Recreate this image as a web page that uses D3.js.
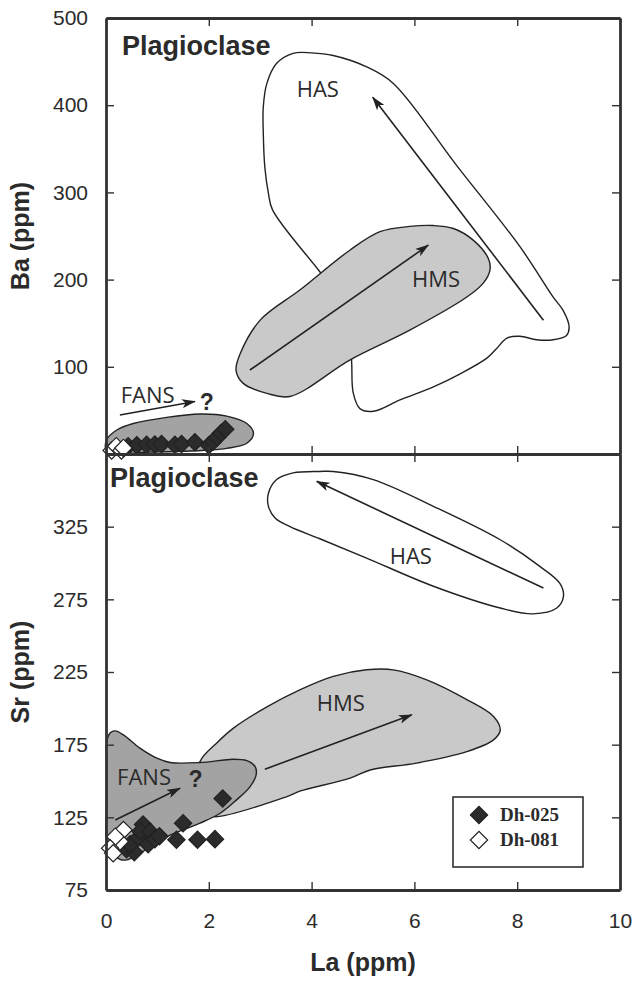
<!DOCTYPE html>
<html>
<head>
<meta charset="utf-8">
<script src="https://cdn.jsdelivr.net/npm/d3@7"></script>
<style>
  body { margin: 0; background: #fff; }
  text { fill: #2b2b2b; }
</style>
</head>
<body>
<div id="chart"></div>
<script>
// Canvas and panel layout
const width = 632, height = 983;
const plot = { left: 106, right: 620, top: 18, mid: 454, bottom: 890 };

// ---- data (La ppm, Ba / Sr ppm) ----
const xTicks = [0, 2, 4, 6, 8, 10];
const baTicks = [100, 200, 300, 400, 500];
const srTicks = [75, 125, 175, 225, 275, 325];

// sample Dh-025 (filled diamonds)
const ba025 = [[0.43, 9], [0.6, 10], [0.79, 10.5], [0.95, 11], [1.08, 11.5], [1.34, 10.5], [1.47, 11.5],
  [1.73, 13.5], [2.0, 10], [2.08, 14], [2.16, 19], [2.24, 24], [2.32, 28.5]];
const sr025 = [[0.40, 103], [0.55, 101], [0.47, 106.5], [0.63, 111], [0.82, 106.5], [0.72, 120], [0.67, 115.5],
  [0.86, 115], [0.95, 110], [1.04, 112], [1.37, 109.5], [1.78, 109.5], [2.12, 110], [1.50, 121], [2.27, 138]];
// sample Dh-081 (open diamonds)
const ba081 = [[0.11, 4], [0.2, 9], [0.3, 4], [0.34, 7]];
const sr081 = [[0.34, 116.3], [0.27, 108.3], [0.18, 111.7], [0.08, 103.7], [0.14, 100.3]];

// fields, top panel (La, Ba)
const hasBa = [[4.00, 460], [4.42, 457], [5.07, 444], [5.59, 425], [6.82, 331], [8.05, 238], [8.70, 180], [8.89, 165],
  [9.01, 146], [8.96, 136], [8.70, 131], [8.38, 131], [8.05, 135], [7.80, 133], [7.60, 121], [7.41, 110],
  [6.89, 92], [6.37, 77], [5.72, 62], [5.20, 49], [4.94, 52], [4.81, 70], [4.78, 104], [4.75, 136],
  [4.65, 171], [4.16, 209], [3.24, 280], [3.16, 299], [3.09, 329], [3.06, 368], [3.06, 398], [3.13, 425],
  [3.32, 448], [3.64, 459.5]];
const hmsBa = [[5.33, 255], [5.91, 261], [6.37, 262], [6.76, 258.6], [7.15, 245], [7.44, 224], [7.47, 211],
  [7.34, 196], [7.02, 180], [5.91, 142], [4.75, 108], [3.58, 66], [3.13, 69.6], [2.67, 81], [2.53, 96],
  [2.61, 115], [3.0, 153.5], [3.77, 188], [4.75, 234]];
const fansBa = [[0.01, 16], [0.21, 27.5], [0.53, 35], [1.18, 42], [1.83, 45.8], [2.35, 43.5], [2.74, 35],
  [2.87, 23.7], [2.74, 12.3], [2.35, 6.5], [2.02, 4.6], [0.86, 2.3], [0.02, 2.3]];

// fields, bottom panel (La, Sr)
const hasSr = [[4.16, 363], [3.64, 362], [3.32, 357.4], [3.16, 348], [3.16, 339], [3.29, 331], [3.58, 325],
  [4.16, 316.7], [5.07, 303.4], [6.37, 284], [7.67, 269], [8.31, 265], [8.77, 269], [8.90, 277], [8.83, 286],
  [8.44, 297.7], [7.67, 316], [6.37, 339], [5.20, 357.4], [4.42, 363]];
const hmsSr = [[1.83, 163.4], [2.15, 176], [2.48, 186.4], [3.13, 201], [3.77, 212.7], [4.42, 222], [5.07, 226.5],
  [5.59, 226.5], [6.24, 219.6], [7.02, 206], [7.54, 194.4], [7.67, 185], [7.54, 178.3], [7.02, 170.2],
  [6.04, 162.3], [5.14, 157.6], [4.75, 152], [3.77, 143], [3.52, 139.3], [2.09, 125.5], [1.93, 128.7], [1.79, 144]];
const fansSr = [[0.01, 176], [0.08, 183], [0.18, 184.5], [0.34, 181.7], [0.66, 172.6], [0.99, 165.7], [1.25, 162.7],
  [1.83, 162.7], [2.48, 165], [2.74, 164], [2.90, 160], [2.92, 154], [2.80, 146], [2.54, 137], [2.22, 127.8],
  [1.83, 121], [1.18, 111.7], [0.66, 100.3], [0.40, 95.7], [0.27, 96.1], [0.11, 101.4], [0.01, 109.4],
  [0.01, 134.7], [0.01, 164.5]];

// trend arrows [from, to]
const arrowsBa = [[[8.51, 153.5], [5.19, 409]], [[2.80, 96.3], [6.27, 239.5]], [[0.27, 44.7], [1.73, 60.3]]];
const arrowsSr = [[[8.51, 282.8], [4.10, 356.2]], [[3.09, 158.1], [5.95, 195.5]], [[0.18, 123.2], [1.44, 145]]];

// field labels [text, La, value]
const labelsBa = [["HAS", 4.12, 409], ["HMS", 6.42, 191], ["FANS", 0.81, 59]];
const labelsSr = [["HAS", 5.93, 299.5], ["HMS", 4.57, 198], ["FANS", 0.74, 147.3]];
const legendNames = ["Dh-025", "Dh-081"];

// ---- scales ----
const x = d3.scaleLinear().domain([0, 10]).range([plot.left, plot.right]);
const yBa = d3.scaleLinear().domain([0, 500]).range([plot.mid, plot.top]);
const ySr = d3.scaleLinear().domain([75, 375]).range([plot.bottom, plot.mid]);

const svg = d3.select("#chart").append("svg")
    .attr("width", width)
    .attr("height", height);

const defs = svg.append("defs");
defs.append("marker")
    .attr("id", "arrow")
    .attr("viewBox", "0 0 14 9")
    .attr("refX", 13).attr("refY", 4.5)
    .attr("markerUnits", "userSpaceOnUse")
    .attr("markerWidth", 14).attr("markerHeight", 9)
    .attr("orient", "auto")
    .append("path")
    .attr("d", "M0,0 L14,4.5 L0,9 L3.5,4.5 Z")
    .attr("fill", "#222");

const diamond = d3.symbol().type(d3.symbolSquare).size(150);
const LABEL_FONT = "'Open Sans', 'DejaVu Sans', sans-serif";
const AXIS_FONT = "'Liberation Sans', Arial, sans-serif";

function drawField(yScale, data, fill) {
    const line = d3.line()
        .x(d => x(d[0]))
        .y(d => yScale(d[1]))
        .curve(d3.curveCatmullRomClosed.alpha(0.5));
    svg.append("path")
        .attr("d", line(data))
        .attr("fill", fill)
        .attr("stroke", "#222")
        .attr("stroke-width", 1.4);
}

function drawArrows(yScale, arrows) {
    svg.selectAll(null).data(arrows).enter().append("line")
        .attr("x1", d => x(d[0][0])).attr("y1", d => yScale(d[0][1]))
        .attr("x2", d => x(d[1][0])).attr("y2", d => yScale(d[1][1]))
        .attr("stroke", "#222")
        .attr("stroke-width", 1.6)
        .attr("marker-end", "url(#arrow)");
}

function drawLabels(yScale, labels) {
    svg.selectAll(null).data(labels).enter().append("text")
        .attr("x", d => x(d[1])).attr("y", d => yScale(d[2]))
        .attr("text-anchor", "middle")
        .style("font-family", LABEL_FONT)
        .style("font-size", "22px")
        .text(d => d[0]);
}

function drawPoints(yScale, data, fill) {
    svg.selectAll(null).data(data).enter().append("path")
        .attr("d", diamond)
        .attr("transform", d => `translate(${x(d[0])},${yScale(d[1])}) rotate(45)`)
        .attr("fill", fill)
        .attr("stroke", "#222")
        .attr("stroke-width", 1.2);
}

function drawQuestion(xPos, yPos) {
    svg.append("text")
        .attr("x", xPos).attr("y", yPos)
        .attr("text-anchor", "middle")
        .style("font-family", AXIS_FONT)
        .style("font-size", "23px")
        .style("font-weight", "bold")
        .text("?");
}

// ---- top panel: Ba ----
drawField(yBa, hasBa, "#fff");
drawField(yBa, hmsBa, "#c9c9c9");
drawField(yBa, fansBa, "#a3a3a3");
drawArrows(yBa, arrowsBa);
drawLabels(yBa, labelsBa);
drawQuestion(x(1.96), yBa(50.4));
drawPoints(yBa, ba025, "#2b2b2b");
drawPoints(yBa, ba081, "#fff");

// ---- bottom panel: Sr ----
drawField(ySr, hasSr, "#fff");
drawField(ySr, hmsSr, "#c9c9c9");
drawField(ySr, fansSr, "#a3a3a3");
drawArrows(ySr, arrowsSr);
drawLabels(ySr, labelsSr);
drawQuestion(x(1.74), ySr(146));
drawPoints(ySr, sr025, "#2b2b2b");
drawPoints(ySr, sr081, "#fff");

// ---- axes & frame ----
function styleAxis(g) {
    g.select(".domain").attr("stroke", "#333").attr("stroke-width", 2.8);
    g.selectAll(".tick line").attr("stroke", "#333").attr("stroke-width", 1.4);
    g.selectAll(".tick text")
        .style("font-family", AXIS_FONT)
        .style("font-size", "21px")
        .attr("fill", "#2b2b2b");
}
const TICK = -8;

// top panel
svg.append("g").attr("transform", `translate(${plot.left},0)`)
    .call(d3.axisLeft(yBa).tickValues(baTicks).tickSizeInner(TICK).tickSizeOuter(0).tickPadding(18))
    .call(styleAxis);
svg.append("g").attr("transform", `translate(${plot.right},0)`)
    .call(d3.axisRight(yBa).tickValues(baTicks).tickSizeInner(TICK).tickSizeOuter(0).tickFormat(""))
    .call(styleAxis);
svg.append("g").attr("transform", `translate(0,${plot.top})`)
    .call(d3.axisTop(x).tickValues(xTicks).tickSizeInner(TICK).tickSizeOuter(0).tickFormat(""))
    .call(styleAxis);
svg.append("g").attr("transform", `translate(0,${plot.mid})`)
    .call(d3.axisBottom(x).tickValues(xTicks).tickSizeInner(TICK).tickSizeOuter(0).tickFormat(""))
    .call(styleAxis);

// bottom panel
svg.append("g").attr("transform", `translate(${plot.left},0)`)
    .call(d3.axisLeft(ySr).tickValues(srTicks).tickSizeInner(TICK).tickSizeOuter(0).tickPadding(18))
    .call(styleAxis);
svg.append("g").attr("transform", `translate(${plot.right},0)`)
    .call(d3.axisRight(ySr).tickValues(srTicks).tickSizeInner(TICK).tickSizeOuter(0).tickFormat(""))
    .call(styleAxis);
svg.append("g").attr("transform", `translate(0,${plot.mid})`)
    .call(d3.axisTop(x).tickValues(xTicks).tickSizeInner(TICK).tickSizeOuter(0).tickFormat(""))
    .call(styleAxis);
svg.append("g").attr("transform", `translate(0,${plot.bottom})`)
    .call(d3.axisBottom(x).tickValues(xTicks).tickSizeInner(TICK).tickSizeOuter(0).tickPadding(23))
    .call(styleAxis);

// panel titles
[[122, 55], [110, 487]].forEach(p => {
    svg.append("text")
        .attr("x", p[0]).attr("y", p[1])
        .style("font-family", AXIS_FONT)
        .style("font-size", "27px")
        .style("font-weight", "bold")
        .text("Plagioclase");
});

// axis titles
function axisTitle(txt, xPos, yPos, rot) {
    svg.append("text")
        .attr("transform", `translate(${xPos},${yPos}) rotate(${rot})`)
        .attr("text-anchor", "middle")
        .style("font-family", AXIS_FONT)
        .style("font-size", "25px")
        .style("font-weight", "bold")
        .text(txt);
}
axisTitle("Ba (ppm)", 29, 236, -90);
axisTitle("Sr (ppm)", 29, 672, -90);
axisTitle("La (ppm)", 363, 971, 0);

// legend
const legend = svg.append("g").attr("transform", "translate(453,797)");
legend.append("rect")
    .attr("width", 130).attr("height", 70)
    .attr("fill", "#fff").attr("stroke", "#222").attr("stroke-width", 1.5);
legendNames.forEach((name, i) => {
    legend.append("path")
        .attr("d", diamond)
        .attr("transform", `translate(26,${18 + i * 25}) rotate(45)`)
        .attr("fill", i === 0 ? "#2b2b2b" : "#fff")
        .attr("stroke", "#222").attr("stroke-width", 1.2);
    legend.append("text")
        .attr("x", 47).attr("y", 24 + i * 25)
        .style("font-family", "'Liberation Serif', 'Times New Roman', serif")
        .style("font-size", "19px")
        .style("font-weight", "bold")
        .text(name);
});
</script>
</body>
</html>
